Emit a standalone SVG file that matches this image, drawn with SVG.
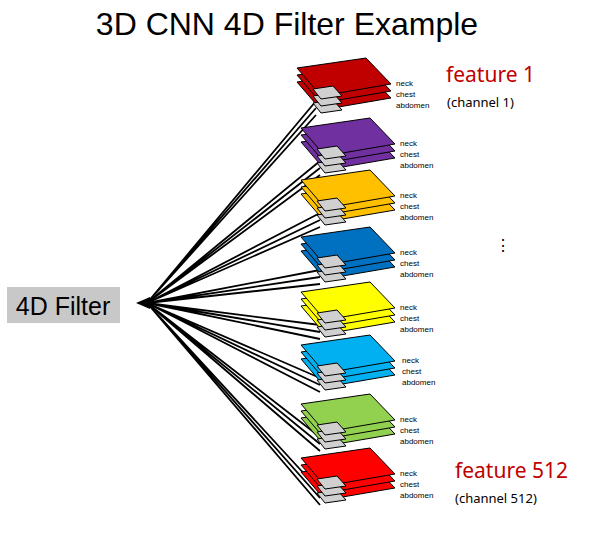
<svg xmlns="http://www.w3.org/2000/svg" width="616" height="539" viewBox="0 0 616 539">
<defs>
<style>
.p{stroke:#000;stroke-width:1}
.g{fill:#d0d0d0;stroke:#000;stroke-width:1}
.s{font-family:"Liberation Sans",Arial,sans-serif;font-size:8px;fill:#000}
.ln{stroke:#000;stroke-width:1.8;fill:none}
.r{font-family:"Noto Sans","Liberation Sans",sans-serif;fill:#c00000;font-size:21px}
.c{font-family:"Noto Sans","Liberation Sans",sans-serif;fill:#000;font-size:13px}
</style>
<g id="layer">
<polygon class="p" points="297,68 366,58 391,84 321,96"/>
<polygon class="g" points="313,89 333,86 342,96 321,99"/>
</g>
</defs>
<rect width="616" height="539" fill="#fff"/>
<text x="287" y="35" text-anchor="middle" font-family="Liberation Sans,Arial,sans-serif" font-size="32">3D CNN 4D Filter Example</text>
<g id="filter"><rect x="7" y="287" width="113" height="36" fill="#c8c8c8"/><text x="63" y="315" text-anchor="middle" font-family="Liberation Sans,Arial,sans-serif" font-size="25">4D Filter</text></g>
<g id="connectors" class="ln">
<path d="M147,303L316,101M147,303L316,108M147,303L316,115"/>
<path d="M147,303L320,161M147,303L320,168M147,303L320,175"/>
<path d="M147,303L320,213M147,303L320,220M147,303L320,227"/>
<path d="M147,303L320,270M147,303L320,277M147,303L320,284"/>
<path d="M147,303L320,325M147,303L320,332M147,303L320,339"/>
<path d="M147,303L320,378M147,303L320,385M147,303L320,392"/>
<path d="M147,303L320,437M147,303L320,444M147,303L320,451"/>
<path d="M147,303L320,491M147,303L320,498M147,303L320,505"/>
<polygon points="136,303 150,297 150,309" fill="#000" stroke="none"/>
</g>
<g id="stack1" transform="translate(0,0)" fill="#c00000"><use href="#layer" y="14"/><use href="#layer" y="7"/><use href="#layer"/><text class="s" x="396" y="86">neck</text><text class="s" x="396" y="97">chest</text><text class="s" x="396" y="108">abdomen</text></g>
<g id="stack2" transform="translate(4,60)" fill="#7030a0"><use href="#layer" y="14"/><use href="#layer" y="7"/><use href="#layer"/><text class="s" x="396" y="86">neck</text><text class="s" x="396" y="97">chest</text><text class="s" x="396" y="108">abdomen</text></g>
<g id="stack3" transform="translate(4,112)" fill="#ffc000"><use href="#layer" y="14"/><use href="#layer" y="7"/><use href="#layer"/><text class="s" x="396" y="86">neck</text><text class="s" x="396" y="97">chest</text><text class="s" x="396" y="108">abdomen</text></g>
<g id="stack4" transform="translate(4,169)" fill="#0070c0"><use href="#layer" y="14"/><use href="#layer" y="7"/><use href="#layer"/><text class="s" x="396" y="86">neck</text><text class="s" x="396" y="97">chest</text><text class="s" x="396" y="108">abdomen</text></g>
<g id="stack5" transform="translate(4,224)" fill="#ffff00"><use href="#layer" y="14"/><use href="#layer" y="7"/><use href="#layer"/><text class="s" x="396" y="86">neck</text><text class="s" x="396" y="97">chest</text><text class="s" x="396" y="108">abdomen</text></g>
<g id="stack6" transform="translate(4,277)" fill="#00b0f0"><use href="#layer" y="14"/><use href="#layer" y="7"/><use href="#layer"/><text class="s" x="398" y="86">neck</text><text class="s" x="398" y="97">chest</text><text class="s" x="398" y="108">abdomen</text></g>
<g id="stack7" transform="translate(4,336)" fill="#92d050"><use href="#layer" y="14"/><use href="#layer" y="7"/><use href="#layer"/><text class="s" x="396" y="86">neck</text><text class="s" x="396" y="97">chest</text><text class="s" x="396" y="108">abdomen</text></g>
<g id="stack8" transform="translate(4,390)" fill="#ff0000"><use href="#layer" y="14"/><use href="#layer" y="7"/><use href="#layer"/><text class="s" x="396" y="86">neck</text><text class="s" x="396" y="97">chest</text><text class="s" x="396" y="108">abdomen</text></g>
<text class="r" x="446" y="82">feature 1</text>
<text class="c" x="447" y="107">(channel 1)</text>
<text class="r" x="455" y="478">feature 512</text>
<text class="c" x="455" y="503">(channel 512)</text>
<text x="503" y="251" text-anchor="middle" font-family="Liberation Sans,sans-serif" font-size="16">⋮</text>
</svg>
